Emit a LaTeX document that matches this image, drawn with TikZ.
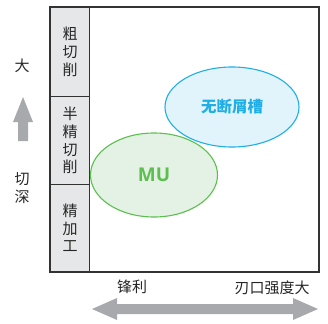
\documentclass[tikz,border=0pt]{standalone}
\usepackage{fontspec}
\setmainfont{Noto Sans CJK SC}
\newfontfamily\latinsans{Open Sans}[BoldFont={Open Sans Bold}]
\usetikzlibrary{shapes.geometric}
\definecolor{colgray}{HTML}{E6E7E8}
\definecolor{arrgray}{HTML}{A7A9AC}
\definecolor{bluel}{HTML}{1FAEE6}
\definecolor{bluef}{HTML}{E1F4FC}
\definecolor{greenl}{HTML}{5CBF4F}
\definecolor{greenf}{HTML}{E3F2E4}
\definecolor{framec}{HTML}{333333}
\begin{document}
\begin{tikzpicture}[x=1pt,y=-1pt,
  lbl/.style={font=\fontsize{15}{17.7}\selectfont, text=black!85, align=center, inner sep=0pt},
  cell/.style={draw=framec, line width=1pt, fill=colgray},
  ell/.style={ellipse, line width=1.1pt, inner sep=0pt}]
\useasboundingbox (0,0) rectangle (328,323);
% main frame
\node[draw=framec, line width=1.4pt, minimum width=268pt, minimum height=264pt, inner sep=0pt, anchor=north west] (frame) at (50,7) {};
% left column cells
\node[cell, minimum width=39pt, minimum height=89pt, inner sep=0pt, anchor=north west] (c1) at (50,7) {};
\node[cell, minimum width=39pt, minimum height=88pt, inner sep=0pt, anchor=north west] (c2) at (50,96) {};
\node[cell, minimum width=39pt, minimum height=87pt, inner sep=0pt, anchor=north west] (c3) at (50,184) {};
\draw[framec, line width=1.4pt] (frame.north west) rectangle (frame.south east);
\node[lbl] (t1) at (c1.center) {粗\\切\\削};
\node[lbl] (t2) at (c2.center) {半\\精\\切\\削};
\node[lbl] (t3) at (c3.center) {精\\加\\工};
% ellipses
\node[ell, draw=bluel, fill=bluef, minimum width=134pt, minimum height=80pt] (blue) at (232,107) {};
\node[font=\fontsize{15.5}{17}\selectfont\bfseries, text=bluel] (bluet) at (blue.center) {无断屑槽};
\node[ell, draw=greenl, fill=greenf, minimum width=127pt, minimum height=84pt] (green) at (154,175) {};
\node[font=\latinsans\bfseries\fontsize{19}{22}\selectfont, text=greenl] (greent) at (green.center) {MU};
% vertical arrow
\fill[arrgray] (23,97) -- (33,122) -- (28,122) -- (28,141) -- (18,141) -- (18,122) -- (13,122) -- cycle;
\coordinate (va) at (23,97);
\node[lbl] (big) at (22,66) {大};
\node[lbl] (depth) at (22,188) {切\\深};
% horizontal double arrow
\fill[arrgray] (92,309) -- (117,298) -- (117,304) -- (293,304) -- (293,298) -- (318,309) -- (293,320) -- (293,314) -- (117,314) -- (117,320) -- cycle;
\coordinate (ha) at (92,309);
\node[lbl] (sharp) at (132,287) {锋利};
\node[lbl] (strong) at (272,288) {刃口强度大};
\end{tikzpicture}
\end{document}
